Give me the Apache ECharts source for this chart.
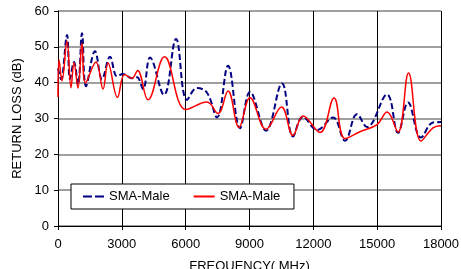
<!DOCTYPE html>
<html>
<head>
<meta charset="utf-8">
<script src="https://cdn.jsdelivr.net/npm/echarts@6/dist/echarts.min.js"></script>
<style>
  html, body { margin: 0; padding: 0; background: #fff; }
  #chart { width: 461px; height: 269px; }
</style>
</head>
<body>
<div id="chart"></div>
<script>
// frequency (MHz) / return loss (dB)
let blueFreq = [0, 141, 423, 564, 752, 940, 1128, 1316, 1739, 2068, 2444, 2773, 3055, 3478, 3713, 3995,
  4324, 4982, 5546, 6063, 6533, 7003, 7473, 7990, 8554, 9024, 9776, 10528, 11045, 11515, 12173, 12925,
  13489, 14053, 14523, 15463, 15980, 16450, 17061, 17625, 18000];
let blueLoss = [44, 41, 53.3, 41, 45.8, 39.5, 53.8, 39, 48.8, 41, 47.2, 41.8, 42.4, 41.2, 41.5, 38.2,
  47.0, 36.6, 52.2, 35.2, 38.5, 37.2, 30.3, 44.7, 27.3, 37.4, 26.6, 39.8, 25.0, 30.5, 26.8, 30.3,
  23.8, 31.2, 27.6, 36.7, 26.0, 34.5, 24.7, 28.9, 29.0];

let redFreq = [0, 50, 188, 423, 611, 752, 940, 1128, 1293, 1786, 2115, 2350, 2797, 3126, 3478, 3737,
  4230, 5005, 6016, 7003, 7520, 7990, 8507, 9024, 9776, 10505, 11045, 11515, 12314, 12972, 13489,
  14194, 14993, 15463, 15980, 16474, 17061, 17625, 18000];
let redLoss = [36, 46.3, 40.5, 51.6, 38.6, 45.6, 38.5, 51, 40, 45.8, 38.2, 45.5, 35.9, 42.3, 41.2, 43.4,
  35.2, 47.2, 32.5, 34.6, 31.4, 37.7, 27.5, 35.8, 27.0, 33.2, 25.3, 30.7, 26.1, 35.7, 24.4,
  26.3, 28.3, 31.8, 26.2, 42.7, 23.7, 27.4, 28.0];

let seriesNames = ['SMA-Male', 'SMA-Male '];  // same label twice; trailing space keeps them apart

function pairs(xs, ys) {
  let out = [];
  for (let i = 0; i < xs.length; i++) out.push([xs[i], ys[i]]);
  return out;
}

let myChart = echarts.init(document.getElementById('chart'));
let font = 'Liberation Sans, Arial, sans-serif';

let option = {
  animation: false,
  textStyle: { fontFamily: font },
  grid: { left: 58, right: 20, top: 11, bottom: 43, outerBoundsMode: 'none', containLabel: false },
  legend: {
    left: 71,
    top: 184,
    orient: 'horizontal',
    backgroundColor: '#fff',
    borderColor: '#000',
    borderWidth: 1,
    borderRadius: 0,
    padding: [6, 10, 6, 12],
    itemWidth: 21,
    itemHeight: 2,
    itemGap: 24,
    textStyle: { fontSize: 13, color: '#000', fontFamily: font },
    data: [
      { name: seriesNames[0], icon: 'path://M0,0h9v2h-9z M12,0h9v2h-9z' },
      { name: seriesNames[1], icon: 'rect' }
    ]
  },
  xAxis: {
    type: 'value',
    min: 0,
    max: 18000,
    interval: 3000,
    name: 'FREQUENCY( MHz)',
    nameLocation: 'middle',
    nameGap: 34,
    nameTextStyle: { fontSize: 13, color: '#000', fontFamily: font },
    axisLine: { show: true, lineStyle: { color: '#000', width: 1 } },
    axisTick: { show: true, length: 4, lineStyle: { color: '#000' } },
    axisLabel: {
      fontSize: 13, color: '#000', margin: 12, fontFamily: font,
      formatter: function (v) { return String(v); }
    },
    splitLine: { show: true, lineStyle: { color: '#000', width: 1 } }
  },
  yAxis: {
    type: 'value',
    min: 0,
    max: 60,
    interval: 10,
    name: 'RETURN LOSS (dB)',
    nameLocation: 'middle',
    nameGap: 33,
    nameTextStyle: { fontSize: 13, color: '#000', fontFamily: font },
    axisLine: { show: true, lineStyle: { color: '#000', width: 1 } },
    axisTick: { show: true, length: 4, lineStyle: { color: '#000' } },
    axisLabel: { fontSize: 13, color: '#000', margin: 9, fontFamily: font },
    splitLine: { show: true, lineStyle: { color: '#808080', width: 1.5 } }
  },
  series: [
    {
      name: seriesNames[0],
      type: 'line',
      data: pairs(blueFreq, blueLoss),
      smooth: 0.4,
      symbol: 'none',
      lineStyle: { color: '#000080', width: 2, type: [6, 3] },
      itemStyle: { color: '#000080' },
      z: 2
    },
    {
      name: seriesNames[1],
      type: 'line',
      data: pairs(redFreq, redLoss),
      smooth: 0.4,
      symbol: 'none',
      lineStyle: { color: '#ff0000', width: 1.5 },
      itemStyle: { color: '#ff0000' },
      z: 3
    }
  ]
};

myChart.setOption(option);
</script>
</body>
</html>
